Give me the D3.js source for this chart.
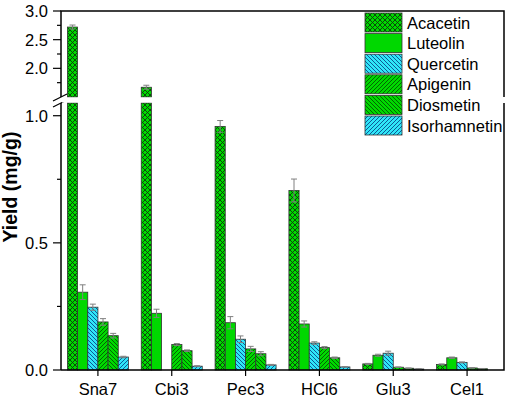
<!DOCTYPE html>
<html><head><meta charset="utf-8">
<script src="https://cdn.jsdelivr.net/npm/d3@7"></script>
<style>body{margin:0;background:#fff}svg{display:block;font-family:"Liberation Sans",Arial,sans-serif}</style>
</head><body><svg id="c" width="510" height="399"></svg>
<script>
const categories = ["Sna7","Cbi3","Pec3","HCl6","Glu3","Cel1"];
const seriesNames = ["Acacetin","Luteolin","Quercetin","Apigenin","Diosmetin","Isorhamnetin"];
const acacetin = [2.72,1.67,0.958,0.706,0.024,0.022];
const luteolin = [0.306,0.223,0.186,0.181,0.058,0.048];
const quercetin = [0.247,0,0.121,0.106,0.066,0.030];
const apigenin = [0.189,0.100,0.083,0.088,0.011,0.008];
const diosmetin = [0.135,0.076,0.064,0.048,0.007,0.005];
const isorhamnetin = [0.051,0.015,0.020,0.012,0.004,0];
const acacetinErr = [0.035,0.035,0.023,0.045,0.002,0.002];
const luteolinErr = [0.029,0.016,0.024,0.012,0.004,0.003];
const quercetinErr = [0.012,0,0.013,0.005,0.008,0.002];
const apigeninErr = [0.013,0.004,0.010,0.004,0.001,0.001];
const diosmetinErr = [0.009,0.003,0.008,0.003,0.001,0.001];
const isorhamnetinErr = [0.003,0.002,0.002,0.001,0.001,0];
const lowTicks = [0,0.5,1.0];
const lowMinor = [0.25,0.75];
const highTicks = [2.0,2.5,3.0];
const highMinor = [1.75,2.25,2.75];

const values = [acacetin,luteolin,quercetin,apigenin,diosmetin,isorhamnetin];
const errs = [acacetinErr,luteolinErr,quercetinErr,apigeninErr,diosmetinErr,isorhamnetinErr];
const fills = ["url(#pCross)","#00d800","url(#pCyanBack)","url(#pGreenFwd)","url(#pGreenBack)","url(#pCyanFwd)"];

const svg = d3.select("#c");
const L=61,R=504,B=370,T=11,breakTop=97,breakBot=103;
const x = d3.scaleBand().domain(categories).range([L,R]);
const xs = d3.scaleBand().domain(seriesNames).range([0,61]);
const yLow = d3.scaleLinear().domain([0,1.05]).range([B,breakBot]);
const yHigh = d3.scaleLinear().domain([1.5,3.0]).range([breakTop,T]);

const defs = svg.append("defs");
function lines(id,bg,col,dir){
  const p=defs.append("pattern").attr("id",id).attr("patternUnits","userSpaceOnUse").attr("width",4).attr("height",4);
  p.append("rect").attr("width",4).attr("height",4).attr("fill",bg);
  const d = dir>0 ? "M-1,1 l2,-2 M0,4 l4,-4 M3,5 l2,-2" : "M-1,3 l2,2 M0,0 l4,4 M3,-1 l2,2";
  p.append("path").attr("d",d).attr("stroke",col).attr("stroke-width",0.9);
}
lines("pGreenFwd","#00d800","#005a00",1);
lines("pGreenBack","#00d800","#005a00",-1);
lines("pCyanFwd","#30e6f8","#0a4a8a",1);
lines("pCyanBack","#30e6f8","#0a4a8a",-1);
const pc=defs.append("pattern").attr("id","pCross").attr("patternUnits","userSpaceOnUse").attr("width",5).attr("height",5);
pc.append("rect").attr("width",5).attr("height",5).attr("fill","#00d800");
pc.append("path").attr("d","M0,0 l5,5 M0,5 l5,-5").attr("stroke","#0b3a0b").attr("stroke-width",0.9);

// bars
const g = svg.append("g");
values.forEach((vals,si)=>{
  vals.forEach((v,ci)=>{
    if(v<=0) return;
    const bx = x(categories[ci]) + x.bandwidth()/2 - 30.5 + xs(seriesNames[si]);
    const w = xs.bandwidth();
    const e = errs[si][ci];
    const segs=[];
    if(v>1.05){
      segs.push([yLow(1.05),yLow(0)]);
      segs.push([yHigh(v),yHigh(1.5)]);
    } else segs.push([yLow(v),yLow(0)]);
    segs.forEach(s=>{
      g.append("rect").attr("x",bx).attr("y",s[0]).attr("width",w).attr("height",s[1]-s[0])
       .attr("fill",fills[si]).attr("stroke","#333").attr("stroke-width",0.8);
    });
    if(e>0){
      const ys = v>1.05?yHigh:yLow;
      const cx = bx+w/2;
      g.append("path").attr("d",`M${cx},${ys(v-e)}V${ys(v+e)}M${cx-3},${ys(v+e)}h6M${cx-3},${ys(v-e)}h6`)
        .attr("stroke","#808080").attr("stroke-width",1).attr("fill","none");
    }
  });
});

// frame
const ax = svg.append("g").attr("stroke","#000").attr("stroke-width",1.5).attr("fill","none");
ax.append("path").attr("d",`M${L},${B}V${breakBot}M${L},${breakTop}V${T}H${R}V${breakTop}M${R},${breakBot}V${B}H${L}`);
// break marks
ax.append("path").attr("d",`M${L-8},${breakTop+4}L${L+6},${breakTop-3}M${L-8},${breakBot+4}L${L+6},${breakBot-3}`).attr("stroke-width",1.2);
// white gap over bars
svg.append("rect").attr("x",L+1).attr("y",breakTop+0.5).attr("width",R-L-2).attr("height",breakBot-breakTop-1).attr("fill","#fff");

// y ticks
const tk = svg.append("g").attr("stroke","#000").attr("stroke-width",1.2);
lowTicks.forEach(t=>tk.append("line").attr("x1",L-8).attr("x2",L).attr("y1",yLow(t)).attr("y2",yLow(t)));
lowMinor.forEach(t=>tk.append("line").attr("x1",L-4).attr("x2",L).attr("y1",yLow(t)).attr("y2",yLow(t)));
highTicks.forEach(t=>tk.append("line").attr("x1",L-8).attr("x2",L).attr("y1",yHigh(t)).attr("y2",yHigh(t)));
highMinor.forEach(t=>tk.append("line").attr("x1",L-4).attr("x2",L).attr("y1",yHigh(t)).attr("y2",yHigh(t)));
categories.forEach(c=>tk.append("line").attr("x1",x(c)+x.bandwidth()/2).attr("x2",x(c)+x.bandwidth()/2).attr("y1",B).attr("y2",B+6));

const lab = svg.append("g").attr("font-size",16.5).attr("fill","#000");
lowTicks.forEach(t=>lab.append("text").attr("x",L-13).attr("y",yLow(t)+6).attr("text-anchor","end").text(t.toFixed(1)));
highTicks.forEach(t=>lab.append("text").attr("x",L-13).attr("y",yHigh(t)+6).attr("text-anchor","end").text(t.toFixed(1)));
categories.forEach(c=>lab.append("text").attr("x",x(c)+x.bandwidth()/2).attr("y",395).attr("text-anchor","middle").text(c));
svg.append("text").attr("transform","translate(17,187) rotate(-90)").attr("text-anchor","middle")
  .attr("font-size",19.5).attr("font-weight","bold").text("Yield (mg/g)");

// legend
const lg = svg.append("g");
seriesNames.forEach((n,i)=>{
  const yy = 13 + i*20.6;
  lg.append("rect").attr("x",365).attr("y",yy).attr("width",37).attr("height",19)
    .attr("fill",fills[i]).attr("stroke","#333").attr("stroke-width",0.8);
  lg.append("text").attr("x",407).attr("y",yy+15.5).attr("font-size",16.5).text(n);
});
</script></body></html>
